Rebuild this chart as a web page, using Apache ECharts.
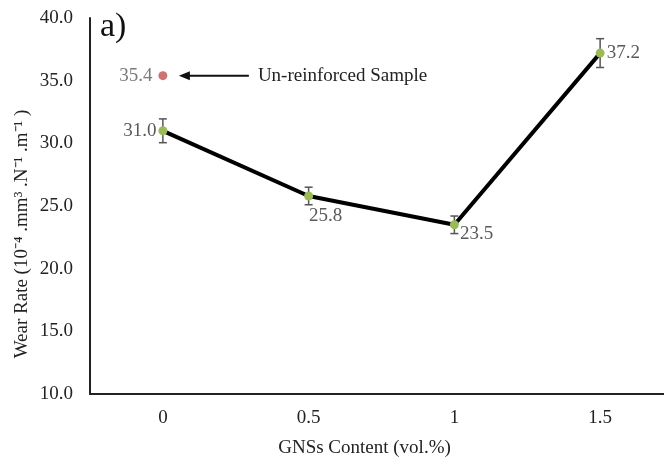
<!DOCTYPE html>
<html><head><meta charset="utf-8">
<script src="https://cdn.jsdelivr.net/npm/echarts@6/dist/echarts.min.js"></script>
<style>html,body{margin:0;padding:0;background:#fff}#c{width:664px;height:459px}</style>
</head><body><div id="c"></div>
<script>
var categories = ['0', '0.5', '1', '1.5'];
var wearRate = [31.0, 25.8, 23.5, 37.2];
var errors = [0.95, 0.7, 0.7, 1.15];
var unreinforced = [[0, 35.4]];
var yTicks = {min: 10, max: 40, interval: 5};
var FONT = 'Liberation Serif';

var labelPos = [
  {position: 'left', distance: 2, offset: [0, 0]},
  {position: 'bottom', distance: 6, offset: [17, 0]},
  {position: 'right', distance: 1, offset: [0, 9]},
  {position: 'right', distance: 2, offset: [0, 0]}
];

var chart = echarts.init(document.getElementById('c'));
var option = {
  animation: false,
  grid: {left: 90, top: 18, width: 583, height: 376, containLabel: false, outerBoundsMode: 'none'},
  xAxis: {
    type: 'category', data: categories, boundaryGap: true,
    axisLine: {lineStyle: {color: '#222', width: 2}},
    axisTick: {show: false},
    axisLabel: {color: '#222', fontFamily: FONT, fontSize: 19, margin: 15},
    name: 'GNSs Content (vol.%)', nameLocation: 'middle', nameGap: 45,
    nameTextStyle: {color: '#222', fontFamily: FONT, fontSize: 19, padding: [0, 34, 0, 0]}
  },
  yAxis: {
    type: 'value', min: yTicks.min, max: yTicks.max, interval: yTicks.interval,
    axisLine: {show: true, lineStyle: {color: '#222', width: 2}},
    axisTick: {show: false},
    splitLine: {show: false},
    axisLabel: {color: '#222', fontFamily: FONT, fontSize: 19, margin: 17,
      formatter: function (v) { return v.toFixed(1); }}
  },
  series: [
    {
      type: 'custom', z: 1,
      renderItem: function (params, api) {
        var x = api.value(0), y = api.value(1), e = api.value(2);
        var top = api.coord([x, y + e]);
        var bot = api.coord([x, y - e]);
        var w = 4;
        var st = {stroke: '#555', lineWidth: 1.5};
        return {type: 'group', children: [
          {type: 'line', shape: {x1: top[0], y1: top[1], x2: bot[0], y2: bot[1]}, style: st},
          {type: 'line', shape: {x1: top[0] - w, y1: top[1], x2: top[0] + w, y2: top[1]}, style: st},
          {type: 'line', shape: {x1: bot[0] - w, y1: bot[1], x2: bot[0] + w, y2: bot[1]}, style: st}
        ]};
      },
      data: wearRate.map(function (v, i) { return [i, v, errors[i]]; })
    },
    {
      type: 'line', z: 2,
      data: wearRate.map(function (v, i) {
        return {value: v, label: labelPos[i]};
      }),
      lineStyle: {color: '#000', width: 4},
      symbol: 'circle', symbolSize: 9,
      itemStyle: {color: '#9BBB59'},
      label: {show: true, color: '#595959', fontFamily: FONT, fontSize: 19,
        formatter: function (p) { return p.value.toFixed(1); }}
    },
    {
      type: 'scatter', z: 3,
      data: unreinforced,
      symbol: 'circle', symbolSize: 9,
      itemStyle: {color: '#C0504D'},
      label: {show: true, position: 'left', distance: 6, color: '#595959', fontFamily: FONT, fontSize: 19,
        formatter: function (p) { return p.value[1].toFixed(1); }}
    }
  ]
};
chart.setOption(option);

var p = chart.convertToPixel({gridIndex: 0}, unreinforced[0]);
var ax = p[0] + 16, ay = p[1], ax2 = p[0] + 86;
chart.setOption({
  graphic: [
    {type: 'text', left: 100, top: 10, style: {text: 'a)', font: '34px "Liberation Serif"', fill: '#111'}},
    {type: 'text', x: 22, y: 234, rotation: Math.PI / 2,
      style: {text: 'Wear Rate (10⁻⁴ .mm³ .N⁻¹ .m⁻¹ )', font: '19px "Liberation Serif"', fill: '#222',
        align: 'center', verticalAlign: 'middle'}},
    {type: 'line', shape: {x1: ax + 8, y1: ay, x2: ax2, y2: ay}, style: {stroke: '#111', lineWidth: 2}},
    {type: 'polygon', shape: {points: [[ax, ay], [ax + 11, ay - 4.5], [ax + 11, ay + 4.5]]}, style: {fill: '#111'}},
    {type: 'text', x: ax2 + 9, y: ay, style: {text: 'Un-reinforced Sample', font: '19px "Liberation Serif"', fill: '#222', verticalAlign: 'middle'}}
  ]
});
</script>
</body></html>
